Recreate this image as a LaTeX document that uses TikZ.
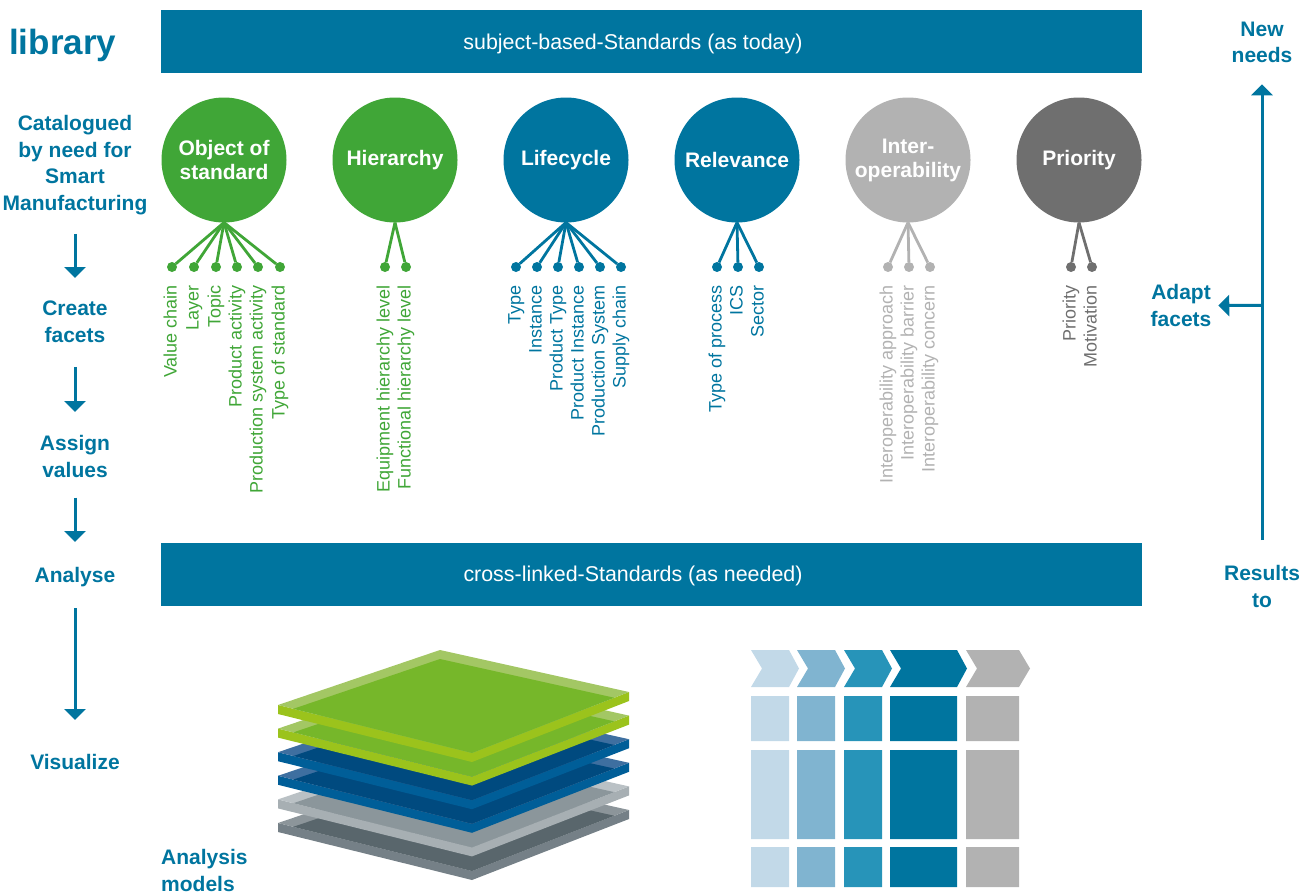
\documentclass[tikz,border=0pt]{standalone}
\usepackage{fontspec}
\setmainfont{Liberation Sans}
\usetikzlibrary{arrows.meta}

\definecolor{dinblue}{HTML}{00759F}
\definecolor{dingreen}{HTML}{40A637}
\definecolor{lightgrey}{HTML}{B2B2B2}
\definecolor{darkgrey}{HTML}{6F6F6F}
% table colours
\definecolor{tabA}{HTML}{C2D9E8}
\definecolor{tabB}{HTML}{80B4D0}
\definecolor{tabC}{HTML}{2794B9}
\definecolor{tabD}{HTML}{00759F}
\definecolor{tabE}{HTML}{B2B2B2}
% layer colours (l = light band, d = dark face, f = front)
\definecolor{lgreen}{HTML}{A3C764}
\definecolor{dgreen}{HTML}{76B72A}
\definecolor{fgreen}{HTML}{9BC31C}
\definecolor{lblue}{HTML}{3E6FA0}
\definecolor{dblue}{HTML}{004A7F}
\definecolor{fblue}{HTML}{005E98}
\definecolor{lgreyA}{HTML}{BAC1C5}
\definecolor{dgreyA}{HTML}{8B969B}
\definecolor{fgreyA}{HTML}{A7AFB3}
\definecolor{lgreyB}{HTML}{8C959A}
\definecolor{dgreyB}{HTML}{59666C}
\definecolor{fgreyB}{HTML}{758087}

\tikzset{
  banner/.style={fill=dinblue, minimum width=981pt, minimum height=63pt, inner sep=0pt, outer sep=0pt},
  bannertext/.style={text=white, font=\fontsize{21.4}{25}\selectfont, inner sep=0pt},
  stepbox/.style={text=dinblue, font=\bfseries\fontsize{21}{26.7}\selectfont, align=center, inner sep=0pt},
  flow/.style={dinblue, line width=3pt, -{Triangle[width=21pt,length=11pt]}},
  facetcircle/.style={circle, minimum size=125pt, inner sep=0pt, outer sep=0pt, text=white,
    font=\bfseries\fontsize{21}{24}\selectfont, align=center},
  facetdot/.style={circle, minimum size=10pt, inner sep=0pt, outer sep=0pt},
  facetlabel/.style={rotate=90, anchor=east, inner sep=0pt, text height=13pt, text depth=4pt,
    font=\fontsize{18}{20}\selectfont},
  fanline/.style={line width=2.8pt},
}

\begin{document}
\begin{tikzpicture}[x=1pt,y=-1pt]
    \useasboundingbox (0,0) rectangle (1311,894);

    % Draw banners
    \node[banner] (subject) at (651.5,41.5) {};
    \node[bannertext] (subjecttext) at (633,43.5) {subject-based-Standards (as today)};
    \node[banner] (crosslinked) at (651.5,574.5) {};
    \node[bannertext] (crosslinkedtext) at (633,575.5) {cross-linked-Standards (as needed)};

    % Draw steps on the left
    \node[stepbox, anchor=base west] (library) at (9,54) {\fontsize{35}{40}\selectfont library};
    \node[stepbox, anchor=north] (catalogued) at (75,115) {Catalogued\\by need for\\Smart\\Manufacturing};
    \node[stepbox, anchor=north] (create) at (75,301) {Create\\facets};
    \node[stepbox, anchor=north] (assign) at (75,435) {Assign\\values};
    \node[stepbox, anchor=north] (analyse) at (75,567.5) {Analyse};
    \node[stepbox, anchor=north] (visualize) at (75,754) {Visualize};
    \node[stepbox, anchor=north west, align=left] (analysis) at (161,849) {Analysis\\models};

    \draw[flow, shorten <=18.6pt, shorten >=23pt] (catalogued) -- (create);
    \draw[flow, shorten <=24pt, shorten >=23pt] (create) -- (assign);
    \draw[flow, shorten <=20pt, shorten >=25.5pt] (assign) -- (analyse);
    \draw[flow, shorten <=21pt, shorten >=34pt] (analyse) -- (visualize);

    % Draw feedback on the right
    \node[stepbox, anchor=north] (newneeds) at (1262,21.5) {New\\needs};
    \node[stepbox, anchor=north] (adapt) at (1181,284.5) {Adapt\\facets};
    \node[stepbox, anchor=north] (results) at (1262,565.5) {Results\\to};
    \coordinate (branch) at (1262,305.3);

    \draw[flow, shorten <=25.5pt, shorten >=21pt] (results) -- (newneeds);
    \draw[flow, shorten >=6.7pt] (branch) -- (adapt);

    % Draw facet circles
    \node[facetcircle, fill=dingreen] (object) at (224,160) {Object of\\standard};
    \node[facetcircle, fill=dingreen] (hierarchy) at (395,160) {Hierarchy};
    \node[facetcircle, fill=dinblue] (lifecycle) at (566,160) {Lifecycle};
    \node[facetcircle, fill=dinblue] (relevance) at (737,160) {Relevance};
    \node[facetcircle, fill=lightgrey] (interop) at (908,160) {Inter-\\operability};
    \node[facetcircle, fill=darkgrey] (priority) at (1079,160) {Priority};

    % Draw facets of object of standard
    \node[facetdot, fill=dingreen] (valuechain) at (172,267) {};
    \node[facetdot, fill=dingreen] (layer) at (194,267) {};
    \node[facetdot, fill=dingreen] (topic) at (216,267) {};
    \node[facetdot, fill=dingreen] (productact) at (237,267) {};
    \node[facetdot, fill=dingreen] (systemact) at (258,267) {};
    \node[facetdot, fill=dingreen] (typestd) at (280,267) {};
    \node[facetlabel, text=dingreen] (valuechaintext) at (172,285) {Value chain};
    \node[facetlabel, text=dingreen] (layertext) at (194,285) {Layer};
    \node[facetlabel, text=dingreen] (topictext) at (216,285) {Topic};
    \node[facetlabel, text=dingreen] (productacttext) at (237,285) {Product activity};
    \node[facetlabel, text=dingreen] (systemacttext) at (258,285) {Production system activity};
    \node[facetlabel, text=dingreen] (typestdtext) at (280,285) {Type of standard};
    \draw[fanline, dingreen] (object.south) -- (valuechain);
    \draw[fanline, dingreen] (object.south) -- (layer);
    \draw[fanline, dingreen] (object.south) -- (topic);
    \draw[fanline, dingreen] (object.south) -- (productact);
    \draw[fanline, dingreen] (object.south) -- (systemact);
    \draw[fanline, dingreen] (object.south) -- (typestd);

    % Draw facets of hierarchy
    \node[facetdot, fill=dingreen] (equipment) at (385,267) {};
    \node[facetdot, fill=dingreen] (functional) at (406,267) {};
    \node[facetlabel, text=dingreen] (equipmenttext) at (385,285) {Equipment hierarchy level};
    \node[facetlabel, text=dingreen] (functionaltext) at (406,285) {Functional hierarchy level};
    \draw[fanline, dingreen] (hierarchy.south) -- (equipment);
    \draw[fanline, dingreen] (hierarchy.south) -- (functional);

    % Draw facets of lifecycle
    \node[facetdot, fill=dinblue] (type) at (516,267) {};
    \node[facetdot, fill=dinblue] (instance) at (537,267) {};
    \node[facetdot, fill=dinblue] (prodtype) at (558,267) {};
    \node[facetdot, fill=dinblue] (prodinst) at (579,267) {};
    \node[facetdot, fill=dinblue] (prodsys) at (600,267) {};
    \node[facetdot, fill=dinblue] (supply) at (621,267) {};
    \node[facetlabel, text=dinblue] (typetext) at (516,285) {Type};
    \node[facetlabel, text=dinblue] (instancetext) at (537,285) {Instance};
    \node[facetlabel, text=dinblue] (prodtypetext) at (558,285) {Product Type};
    \node[facetlabel, text=dinblue] (prodinsttext) at (579,285) {Product Instance};
    \node[facetlabel, text=dinblue] (prodsystext) at (600,285) {Production System};
    \node[facetlabel, text=dinblue] (supplytext) at (621,285) {Supply chain};
    \draw[fanline, dinblue] (lifecycle.south) -- (type);
    \draw[fanline, dinblue] (lifecycle.south) -- (instance);
    \draw[fanline, dinblue] (lifecycle.south) -- (prodtype);
    \draw[fanline, dinblue] (lifecycle.south) -- (prodinst);
    \draw[fanline, dinblue] (lifecycle.south) -- (prodsys);
    \draw[fanline, dinblue] (lifecycle.south) -- (supply);

    % Draw facets of relevance
    \node[facetdot, fill=dinblue] (process) at (717,267) {};
    \node[facetdot, fill=dinblue] (ics) at (738,267) {};
    \node[facetdot, fill=dinblue] (sector) at (759,267) {};
    \node[facetlabel, text=dinblue] (processtext) at (717,285) {Type of process};
    \node[facetlabel, text=dinblue] (icstext) at (738,285) {ICS};
    \node[facetlabel, text=dinblue] (sectortext) at (759,285) {Sector};
    \draw[fanline, dinblue] (relevance.south) -- (process);
    \draw[fanline, dinblue] (relevance.south) -- (ics);
    \draw[fanline, dinblue] (relevance.south) -- (sector);

    % Draw facets of interoperability
    \node[facetdot, fill=lightgrey] (approach) at (888,267) {};
    \node[facetdot, fill=lightgrey] (barrier) at (909,267) {};
    \node[facetdot, fill=lightgrey] (concern) at (930,267) {};
    \node[facetlabel, text=lightgrey] (approachtext) at (888,285) {Interoperability approach};
    \node[facetlabel, text=lightgrey] (barriertext) at (909,285) {Interoperability barrier};
    \node[facetlabel, text=lightgrey] (concerntext) at (930,285) {Interoperability concern};
    \draw[fanline, lightgrey] (interop.south) -- (approach);
    \draw[fanline, lightgrey] (interop.south) -- (barrier);
    \draw[fanline, lightgrey] (interop.south) -- (concern);

    % Draw facets of priority
    \node[facetdot, fill=darkgrey] (prio) at (1071,267) {};
    \node[facetdot, fill=darkgrey] (motivation) at (1092,267) {};
    \node[facetlabel, text=darkgrey] (priotext) at (1071,285) {Priority};
    \node[facetlabel, text=darkgrey] (motivationtext) at (1092,285) {Motivation};
    \draw[fanline, darkgrey] (priority.south) -- (prio);
    \draw[fanline, darkgrey] (priority.south) -- (motivation);

    % Draw layer stack (bottom layer first)
    \foreach \dy/\c in {118/greyB, 94.4/greyA, 70.8/blue, 47.2/blue, 23.6/green, 0/green} {
        \begin{scope}[shift={(0,\dy)}]
            \fill[f\c] (278,705) -- (472,753) -- (629,692) -- (629,701) -- (472,762) -- (278,714) -- cycle;
            \fill[l\c] (440,650) -- (629,692) -- (472,753) -- (278,705) -- cycle;
            \begin{scope}
                \clip (440,650) -- (629,692) -- (472,753) -- (278,705) -- cycle;
                \fill[d\c] (440,659) -- (629,701) -- (472,762) -- (278,714) -- cycle;
            \end{scope}
        \end{scope}
    }

    % Draw process table
    \fill[tabA] (751,650) -- (789,650) -- (799,668.5) -- (789,687) -- (751,687) -- (762,668.5) -- cycle;
    \fill[tabB] (797,650) -- (835,650) -- (845,668.5) -- (835,687) -- (797,687) -- (808,668.5) -- cycle;
    \fill[tabC] (844,650) -- (882,650) -- (892,668.5) -- (882,687) -- (844,687) -- (855,668.5) -- cycle;
    \fill[tabD] (890,650) -- (957,650) -- (967,668.5) -- (957,687) -- (890,687) -- (901,668.5) -- cycle;
    \fill[tabE] (966,650) -- (1019,650) -- (1030,668.5) -- (1019,687) -- (966,687) -- (977,668.5) -- cycle;

    \fill[tabA] (751,696) rectangle (789,741) (751,750) rectangle (789,839) (751,847) rectangle (789,887);
    \fill[tabB] (797,696) rectangle (835,741) (797,750) rectangle (835,839) (797,847) rectangle (835,887);
    \fill[tabC] (844,696) rectangle (882,741) (844,750) rectangle (882,839) (844,847) rectangle (882,887);
    \fill[tabD] (890,696) rectangle (957,741) (890,750) rectangle (957,839) (890,847) rectangle (957,887);
    \fill[tabE] (966,696) rectangle (1019,741) (966,750) rectangle (1019,839) (966,847) rectangle (1019,887);
\end{tikzpicture}
\end{document}
